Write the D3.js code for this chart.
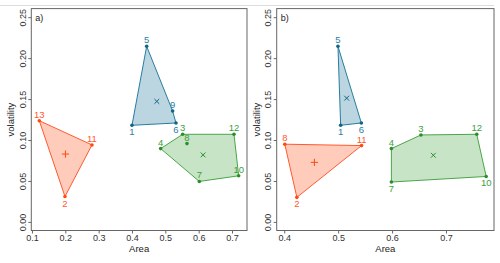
<!DOCTYPE html>
<html><head><meta charset="utf-8">
<script src="https://cdn.jsdelivr.net/npm/d3@7"></script>
<style>body{margin:0;background:#fff}svg{display:block}</style>
</head><body>
<svg id="c" width="500" height="263"></svg>
<script>
// ---- data ----
const panelNames = ["a)", "b)"];
const xTicksA = [0.1, 0.2, 0.3, 0.4, 0.5, 0.6, 0.7];
const xTicksB = [0.4, 0.5, 0.6, 0.7];
const yTicks = [0.00, 0.05, 0.10, 0.15, 0.20, 0.25];
const groupNames = ["red", "blue", "green"];

// panel a
const redA   = [{id:13,x:0.122,y:0.1236,s:"above"},{id:11,x:0.280,y:0.094,s:"above"},{id:2,x:0.199,y:0.031,s:"below"}];
const blueA  = [{id:5,x:0.444,y:0.2145,s:"above"},{id:9,x:0.522,y:0.1354,s:"above"},{id:6,x:0.532,y:0.1208,s:"below"},{id:1,x:0.400,y:0.118,s:"below"}];
const greenA = [{id:3,x:0.552,y:0.107,s:"above"},{id:8,x:0.565,y:0.0956,s:"above"},{id:4,x:0.486,y:0.0895,s:"above"},{id:7,x:0.602,y:0.0494,s:"above"},{id:10,x:0.720,y:0.0563,s:"above"},{id:12,x:0.706,y:0.107,s:"above"}];
// panel b
const redB   = [{id:8,x:0.401,y:0.0949,s:"above"},{id:11,x:0.5434,y:0.0932,s:"above"},{id:2,x:0.4234,y:0.030,s:"below"}];
const blueB  = [{id:5,x:0.4996,y:0.2145,s:"above"},{id:6,x:0.543,y:0.1208,s:"below"},{id:1,x:0.5046,y:0.118,s:"below"}];
const greenB = [{id:4,x:0.5987,y:0.0895,s:"above"},{id:3,x:0.6535,y:0.1062,s:"above"},{id:12,x:0.757,y:0.107,s:"above"},{id:10,x:0.7745,y:0.0555,s:"below"},{id:7,x:0.5987,y:0.0487,s:"below"}];

const xDomainA = [0.098, 0.745];
const xDomainB = [0.386, 0.789];
const yDomain = [-0.0105, 0.2605];

// ---- styles ----
const colors = {
  red:   {stroke:"#ff5a2e", fill:"rgba(255,85,30,0.30)", pt:"#ff4a10", lab:"#ff5a2e", mark:"+"},
  blue:  {stroke:"#2a7d9e", fill:"rgba(30,115,155,0.30)", pt:"#0f6585", lab:"#2a80a3", mark:"x"},
  green: {stroke:"#4aa64a", fill:"rgba(40,150,40,0.26)", pt:"#2a8f2a", lab:"#3d9e3d", mark:"x"}
};

const svg = d3.select("#c");
const font = "Liberation Sans, Arial, sans-serif";

svg.append("line").attr("x1",0).attr("x2",494).attr("y1",5.5).attr("y2",5.5)
  .attr("stroke","#dcdcdc").attr("stroke-width",1.2);

const panels = [
  {name:panelNames[0], groups:{red:redA,blue:blueA,green:greenA}, xd:xDomainA, xt:xTicksA, left:31.3, right:247},
  {name:panelNames[1], groups:{red:redB,blue:blueB,green:greenB}, xd:xDomainB, xt:xTicksB, left:276.7, right:494}
];
const boxTop = 8.6, boxBottom = 230.5;

panels.forEach(p => {
  const g = svg.append("g");
  const x = d3.scaleLinear().domain(p.xd).range([p.left, p.right]);
  const y = d3.scaleLinear().domain(yDomain).range([boxBottom, boxTop]);

  // axes
  const xa = g.append("g").attr("transform",`translate(0,${boxBottom})`)
    .call(d3.axisBottom(x).tickValues(p.xt).tickFormat(d3.format(".1f")).tickSize(3).tickPadding(1));
  const ya = g.append("g").attr("transform",`translate(${p.left},0)`)
    .call(d3.axisLeft(y).tickValues(yTicks).tickFormat(d3.format(".2f")).tickSize(3).tickPadding(2));
  [xa, ya].forEach(a => {
    a.select(".domain").remove();
    a.selectAll(".tick line").attr("stroke","#666");
    a.selectAll(".tick text").attr("fill","#333").style("font-family",font).style("font-size","9px");
  });
  ya.selectAll(".tick text").each(function(){
    d3.select(this).attr("x",null).attr("dy","0.32em").attr("text-anchor","middle")
     .attr("transform","translate(-8.5,0) rotate(-90)");
  });

  // box
  g.append("rect").attr("x",p.left).attr("y",boxTop).attr("width",p.right-p.left).attr("height",boxBottom-boxTop)
    .attr("fill","none").attr("stroke","#666").attr("stroke-width",1);

  // axis titles
  g.append("text").attr("x",(p.left+p.right)/2).attr("y",251.5).attr("text-anchor","middle")
    .style("font-family",font).style("font-size","9.5px").attr("fill","#222").text("Area");
  g.append("text").attr("transform",`translate(${p.left-17},${(boxTop+boxBottom)/2}) rotate(-90)`)
    .attr("text-anchor","middle").style("font-family",font).style("font-size","9.5px").attr("fill","#222").text("volatility");
  g.append("text").attr("x",p.left+4).attr("y",21).style("font-family",font).style("font-size","9px")
    .attr("fill","#222").text(p.name);

  groupNames.forEach(gn => {
    const pts = p.groups[gn];
    const c = colors[gn];
    const hull = d3.polygonHull(pts.map(d => [d.x, d.y]));
    g.append("path")
      .attr("d", "M" + hull.map(h => [x(h[0]), y(h[1])].join(",")).join("L") + "Z")
      .attr("fill", c.fill).attr("stroke", c.stroke).attr("stroke-width", 1);
    g.selectAll(null).data(pts).enter().append("circle")
      .attr("cx", d => x(d.x)).attr("cy", d => y(d.y)).attr("r", 1.8).attr("fill", c.pt);
    g.selectAll(null).data(pts).enter().append("text")
      .attr("x", d => x(d.x)).attr("y", d => y(d.y) + (d.s === "above" ? -3 : 10))
      .attr("text-anchor","middle").style("font-family",font).style("font-size","9.5px")
      .attr("fill", c.lab).text(d => d.id);
    // centroid = mean of hull vertices
    const cx = x(d3.mean(hull, h => h[0])), cy = y(d3.mean(hull, h => h[1]));
    const r = c.mark === "+" ? 3.6 : 2.4;
    const path = c.mark === "+"
      ? `M${cx-r},${cy}L${cx+r},${cy}M${cx},${cy-r}L${cx},${cy+r}`
      : `M${cx-r},${cy-r}L${cx+r},${cy+r}M${cx-r},${cy+r}L${cx+r},${cy-r}`;
    g.append("path").attr("d", path).attr("stroke", c.pt).attr("stroke-width", 1).attr("fill","none");
  });
});
</script>
</body></html>
